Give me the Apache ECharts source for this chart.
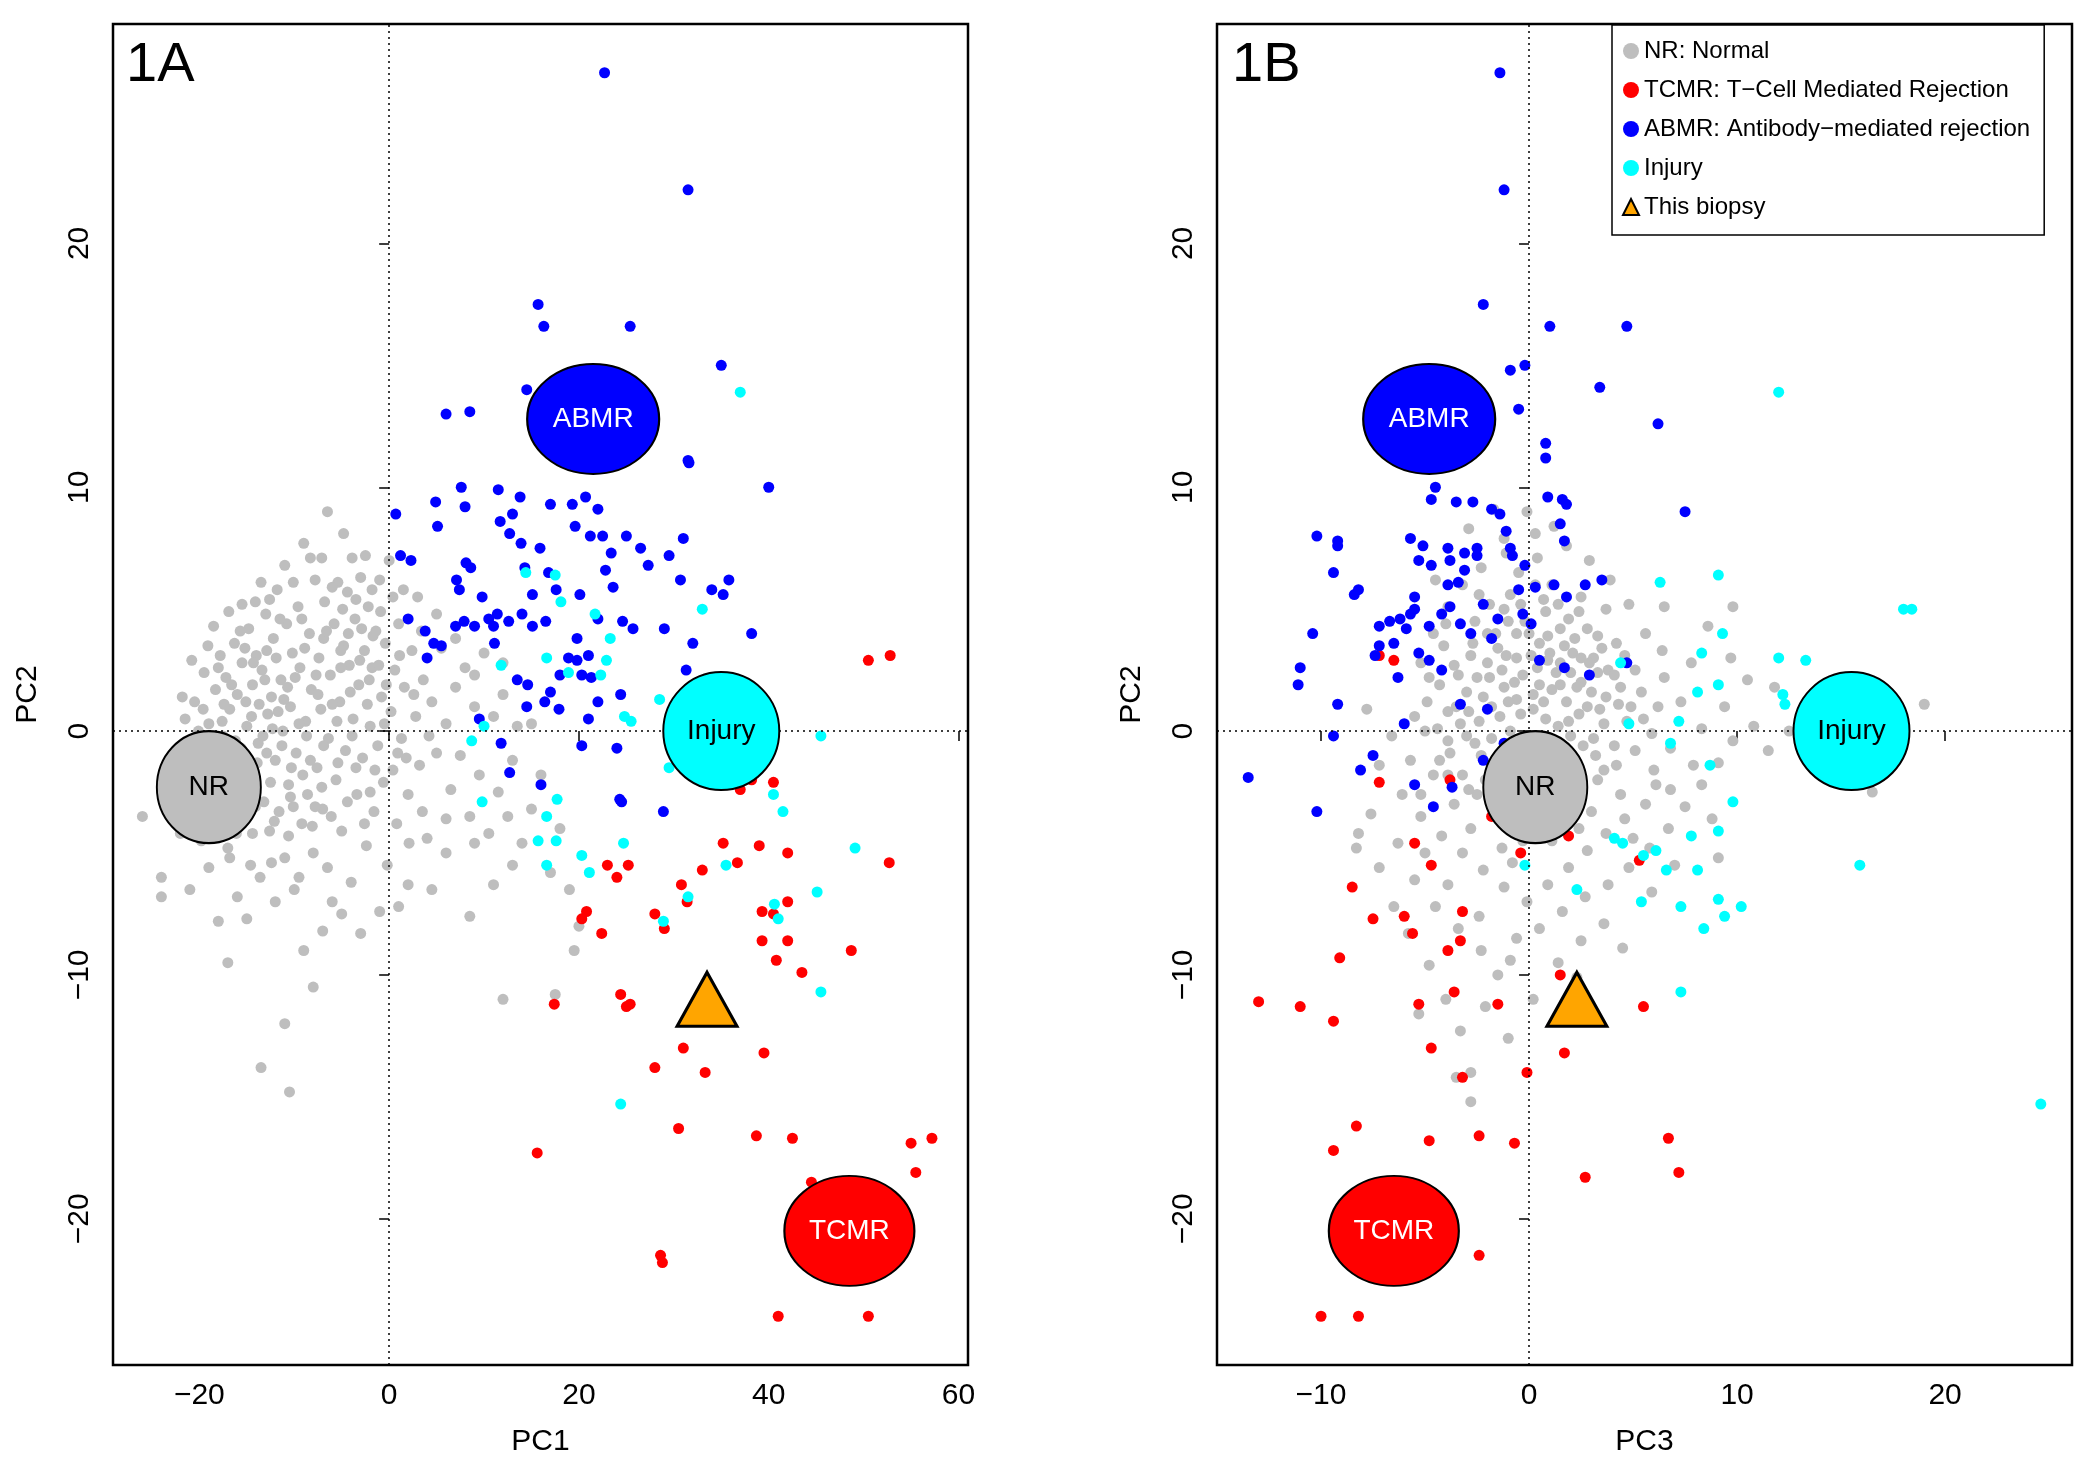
<!DOCTYPE html>
<html>
<head>
<meta charset="utf-8">
<script src="https://cdn.jsdelivr.net/npm/echarts@6/dist/echarts.min.js"></script>
<style>html,body{margin:0;padding:0;background:#fff}#chart{width:2096px;height:1476px}</style>
</head>
<body>
<div id="chart"></div>
<script>
// PC1 vs PC2 (panel 1A)
const grayA = [[-26,-3.5],[-24,-6],[-24,-6.8],[-23,-3],[-22.5,-1.5],[-22,-4.2],[-21.5,0.5],[-21,-2.7],[-20.5,1.2],[-20,-0.8],[-19.8,-4.5],[-19.5,2.4],[-19,0.3],[-18.7,-1.4],[-18.3,1.7],[-18,-3.1],[-17.8,3.1],[-17.5,-0.2],[-17.2,2.2],[-17,-4.8],[-16.8,0.9],[-16.5,-2.1],[-16.3,3.6],[-16,1.5],[-15.8,-1],[-15.5,2.8],[-15.3,-3.6],[-15,0.2],[-14.8,4.2],[-14.6,-5.5],[-14.4,1.9],[-14.2,-1.8],[-14,3.1],[-13.8,-0.5],[-13.6,-6],[-13.4,2.5],[-13.2,-2.9],[-13,4.8],[-12.8,0.7],[-12.6,-4.1],[-12.4,1.4],[-12.2,3.8],[-12,-1.2],[-11.8,5.8],[-11.6,-3.3],[-11.4,2.1],[-11.2,0],[-11,-5.2],[-10.8,4.4],[-10.6,-2.2],[-10.4,1],[-10.2,3.2],[-10,-6.5],[-9.8,-0.9],[-9.6,5.1],[-9.4,2.6],[-9.2,-3.8],[-9,7.7],[-8.8,0.4],[-8.6,-2.6],[-8.4,4],[-8.2,1.7],[-8,-5],[-7.8,6.2],[-7.6,-1.5],[-7.4,3],[-7.2,0.9],[-7,-3.2],[-6.8,5.3],[-6.5,9],[-6.4,-0.3],[-6.2,2.3],[-6,-7],[-5.8,4.4],[-5.6,-2],[-5.4,6.1],[-5.2,1.2],[-5,-4.1],[-4.8,3.5],[-4.6,-0.8],[-4.4,5.7],[-4.2,2.7],[-4,-6.2],[-3.8,0.5],[-3.6,4.6],[-3.4,-2.6],[-3.2,1.9],[-3,6.3],[-2.8,-1.1],[-2.6,3.3],[-2.4,-4.7],[-2.2,5.1],[-2,0.2],[-1.8,2.6],[-1.6,-3.3],[-1.4,4.1],[-1.2,-0.6],[-1,6.2],[-0.8,1.4],[-0.6,-2.1],[-0.4,3.6],[-0.2,-5.5],[0,7],[0.2,0.8],[0.4,-1.6],[0.6,2.5],[0.8,-3.8],[1,4.4],[1.3,-0.3],[1.6,1.8],[2,-2.6],[2.4,3.3],[2.8,0.6],[3.2,-1.4],[3.6,2.1],[4,-4.4],[4.5,1.2],[5,-0.9],[5.5,3.4],[6,0.3],[6.5,-2.4],[7,1.8],[7.5,-1],[8,2.6],[8.5,-3.5],[9,1],[9.5,-1.8],[10,3.2],[10.5,-4.2],[11,0.6],[11.5,-2.5],[12,1.5],[12.5,-3.5],[13,-1.2],[13.5,0.2],[14,-4.6],[15,-3.2],[16,-1.8],[17,-5.8],[18,-4],[19,-6.5],[20,-8],[19.5,-9],[17.5,-10.8],[12,-11],[-17,-9.5],[-18,-7.8],[-16,-6.8],[-13.5,-13.8],[-11,-12],[-10.5,-14.8],[-9,-9],[-8,-10.5],[-7,-8.2],[-5,-7.5],[-3,-8.3],[-1,-7.4],[1,-7.2],[2,-6.3],[4.5,-6.5],[6,-5],[8.5,-7.6],[11,-6.3],[13,-5.5],[-21,-6.5],[-19,-5.6],[-15,-7.7],[-12,-7],[-9.5,-6],[-6.5,-5.6],[-20.8,2.9],[-18.5,4.3],[-15.5,5.2],[-13.5,6.1],[-11,6.8],[-8.3,7.1],[-4.8,8.1],[-2.5,7.2],[-6,5.9],[-3.5,5.4],[-16.8,-3.6],[-14.8,-2.4],[-12.9,-0.9],[-10.3,-1.5],[-8.7,-0.2],[-7.5,1.5],[-5.5,0.4],[-3.9,-0.2],[-2.3,1.1],[-0.5,0.3],[-11.7,0.8],[-9.9,2.2],[-13.7,1.1],[-15.6,-0.7],[-17.6,0.4],[-19.3,-1.9],[-6.9,3.8],[-5.1,2.6],[-4.3,4],[-1.7,3.9],[3,5.5],[5,4.8],[7,3.8],[9,2.3],[12,2.8],[15,0.3],[1.5,5.8],[3.5,-3.3],[6,-3.6],[9,-4.6],[-2,-2.5],[-7.8,-3.1],[-10.6,-4.3],[-12.4,-5.4],[-14.4,-4.2],[-16.8,-5.2],[-18.4,-3.8],
  [-22.2,-3.3],[-21.3,-1.2],[-20.3,-2.2],[-19.6,0.9],[-18.9,-0.6],[-18,2.6],[-17.3,-1.6],[-16.6,1.9],[-15.9,-2.6],[-15.2,3.4],[-14.5,0.6],[-13.9,-1.3],[-13.1,2.1],[-12.5,-2.1],[-11.9,3],[-11.3,-0.6],[-10.7,1.8],[-10.1,-3.1],[-9.5,0.3],[-8.9,3.4],[-8.3,-1.2],[-7.7,2.3],[-7.1,-2.3],[-6.6,4.1],[-6,1.1],[-5.4,-1.3],[-4.9,5],[-4.1,1.6],[-3.5,-1.5],[-2.9,4.2],[-2.1,2.1],[-1.5,-1.6],[-0.9,4.9],[-0.3,1.9],[0.4,5.5],[1.1,3.1],[1.8,-1.1],[2.6,1.5],[3.4,4.1],[4.2,-0.2],[-20.6,-3.7],[-17.9,-2.4],[-16.1,-4.2],[-14.1,-3.1],[-12.1,-3.7],[-10.4,-2.7],[-8.1,-3.9],[-6.1,-3.5],[-4.4,-2.9],[-2.6,-3.8],[-19.1,3.5],[-16.9,4.9],[-14.1,5.3],[-12.6,5.4],[-10.1,6.1],[-7.1,7.1],[-3.9,7.1],[-1.8,5.8],[-9.2,4.6],[-12.9,3.3],[-15.1,1.2],[-13.3,-0.2],[-11.1,1.3],[-9.1,-1.8],[-6.9,-0.6],[-5.1,3.3],[-3.1,2.9],[-1.1,2.7],[0.9,-0.9],[2.1,-4.6],[-23.6,-2.3],[-21.8,1.4],[-20.1,0],[-19.3,-3.3],[-17.4,1.1],[-16.2,-0.4],[-15.7,4.1],[-14.3,2.8],[-12.3,0.1],[-11.5,4.6]];
const redA = [[50.5,2.9],[52.8,3.1],[40.5,-2.1],[38.2,-2],[37,-2.4],[33,-5.7],[35.2,-4.6],[36.7,-5.4],[39,-4.7],[42,-5],[42,-7],[52.7,-5.4],[23,-5.5],[24,-6],[25.2,-5.5],[20.8,-7.4],[20.3,-7.7],[22.4,-8.3],[30.8,-6.3],[31.4,-7],[28,-7.5],[29,-8.1],[39.3,-7.4],[40.5,-7.5],[39.3,-8.6],[42,-8.6],[40.8,-9.4],[43.5,-9.9],[48.7,-9],[17.4,-11.2],[24.4,-10.8],[25,-11.3],[25.4,-11.2],[31,-13],[33.3,-14],[39.5,-13.2],[28,-13.8],[30.5,-16.3],[38.7,-16.6],[42.5,-16.7],[15.6,-17.3],[44.5,-18.5],[55,-16.9],[55.5,-18.1],[57.2,-16.7],[28.6,-21.5],[28.8,-21.8],[41,-24],[50.5,-24]];
const blueA = [[22.7,27],[31.5,22.2],[15.7,17.5],[16.3,16.6],[25.4,16.6],[35,15],[14.5,14],[6,13],[8.5,13.1],[31.5,11.1],[31.6,11],[40,10],[0.7,8.9],[7.6,10],[11.5,9.9],[13.8,9.6],[17,9.3],[19.3,9.3],[20.7,9.6],[22,9.1],[19.6,8.4],[21.2,8],[22.5,8],[23.4,7.3],[26.5,7.5],[29.5,7.2],[25,8],[15.9,7.5],[13.9,7.7],[13,8.9],[11.7,8.6],[12.7,8.1],[8,9.2],[5.1,8.4],[4.9,9.4],[1.2,7.2],[2.3,7],[8.1,6.9],[8.6,6.7],[7.1,6.2],[7.4,5.8],[14.3,6.7],[16.8,6.5],[15.1,5.6],[17.6,5.8],[22.8,6.6],[23.6,5.9],[27.3,6.8],[31,7.9],[34,5.8],[35.2,5.6],[35.8,6.2],[38.2,4],[30.7,6.2],[20.1,5.6],[22,4.6],[24.6,4.5],[19.8,3.8],[16.5,4.5],[15.1,4.3],[14,4.8],[11.4,4.8],[10.5,4.6],[9,4.3],[7.9,4.5],[7,4.3],[4.7,3.6],[3.8,4.1],[2,4.6],[4,3],[5.5,3.5],[9.8,5.5],[11,4.3],[12.6,4.5],[18.9,3],[19.8,2.9],[18,2.3],[20.3,2.3],[21.3,2.2],[22,1.2],[21,3.1],[25.7,4.2],[29,4.2],[32,3.6],[31.3,2.5],[24.4,1.5],[17,1.6],[14.5,1],[16.4,1.2],[11.8,-0.5],[12.7,-1.7],[20.3,-0.6],[24,-0.7],[24.3,-2.8],[24.5,-2.9],[16,-2.2],[28.9,-3.3],[14.6,1.9],[13.5,2.1],[11.1,3.6],[9.5,0.5],[17.9,0.9],[21,0.5]];
const cyanA = [[37,13.9],[14.4,6.5],[17.5,6.4],[18.1,5.3],[21.7,4.8],[23.3,3.8],[33,5],[22.9,2.9],[11.8,2.7],[16.6,3],[18.9,2.4],[22.3,2.3],[28.5,1.3],[24.8,0.6],[25.5,0.4],[8.7,-0.4],[10,0.2],[9.8,-2.9],[17.7,-2.8],[16.6,-3.5],[15.7,-4.5],[16.6,-5.5],[17.6,-4.5],[20.3,-5.1],[21.1,-5.8],[24.7,-4.6],[40.5,-2.6],[41.5,-3.3],[45.5,-0.2],[35.5,-5.5],[29.5,-1.5],[31.5,-6.8],[28.9,-7.8],[40.6,-7.1],[41,-7.7],[45.1,-6.6],[49.1,-4.8],[45.5,-10.7],[24.4,-15.3]];
const biopsyA = [[33.5,-11]];
const centroidsA = [['NR',-19,-2.3],['ABMR',21.5,12.8],['Injury',35,0],['TCMR',48.5,-20.5]];

// PC3 vs PC2 (panel 1B)
const grayB = [[-0.5,6.5],[-1,4.5],[0,4],[0.5,3.6],[1,3.2],[1.5,2.8],[2,2.4],[2.5,2],[3,1.6],[-1.5,3.4],[-2,2.8],[-2.5,2.2],[-3,1.6],[-3.5,1],[-1.2,1.8],[-0.6,1.3],[0.2,0.9],[0.8,0.5],[1.4,0.2],[2,-0.2],[2.6,-0.6],[3.2,-1],[-0.3,2.3],[0.4,2.6],[1.1,1.7],[1.8,1.2],[-1.8,1],[-2.4,0.4],[-3,-0.2],[-0.9,0],[-0.2,-0.4],[0.5,-1.1],[1.2,-1.6],[2.2,3.8],[3.1,3],[3.8,2.5],[4.4,1.8],[4.9,1],[5.5,0.5],[-2.6,4.5],[-1.9,5.2],[-0.9,5.6],[0.8,4.9],[1.9,4.6],[2.8,4.2],[-3.6,2.7],[-4.3,1.9],[-4.9,1.2],[-4.4,0.1],[-3.8,-0.9],[-3.2,-1.8],[-2.5,-2.6],[-1.7,-3.3],[-1,-3.9],[-0.3,-4.5],[0.6,-3.8],[1.5,-3.2],[2.4,-2.5],[3.3,-2],[4.2,-1.4],[5.1,-0.8],[6,-1.6],[6.8,-2.4],[5.6,-3],[4.6,-3.6],[3.7,-4.2],[2.8,-4.9],[1.9,-5.6],[0.9,-6.3],[-0.1,-7],[-1.2,-6.4],[-2.2,-5.7],[-3.2,-5],[-4.2,-4.3],[-5.2,-3.5],[-6.1,-2.6],[-5.7,-1.2],[-5.5,0.6],[-6.3,-4.6],[-5.5,-6.1],[-4.5,-7.2],[-3.4,-8.1],[-2.3,-9],[-1.5,-10],[-0.6,-8.5],[0.5,-8.1],[1.6,-7.4],[2.7,-6.8],[3.8,-6.3],[4.8,-5.6],[5.8,-4.8],[6.7,-4],[7.5,-3.1],[8.3,-2.2],[9.1,-1.3],[9.8,-0.4],[10.8,0.2],[11.5,-0.8],[12.5,0],[13.5,-1.2],[14.4,-0.5],[19,1.1],[16.5,-2.5],[7.3,1.2],[8.3,0.1],[6.5,2.2],[7.8,2.8],[8.6,4.3],[9.8,5.1],[9.7,3],[10.5,2.1],[5.6,4],[4.8,5.2],[3.9,6.2],[2.9,7],[1.8,7.6],[0.3,8.1],[-1.1,7.3],[-2.3,6.7],[-3.2,6],[-3.9,5.1],[-4.6,4],[-5.2,2.8],[-6.6,-0.2],[-7.2,-1.4],[-8.2,-4.2],[-7.2,-5.6],[-6.5,-7.2],[-5.8,-8.3],[-4.8,-9.6],[-4,-11],[-5.3,-11.6],[-3.3,-12.3],[-2.1,-11.3],[-1,-12.6],[0.2,-11],[1.4,-9.5],[2.5,-8.6],[3.6,-7.9],[-3.5,-14.2],[-2.8,-15.2],[-2.8,-14],[-0.2,-1.6],[0.9,-2.4],[1.8,-1.9],[-1.6,-1.2],[-2.3,-1],[-1,1.2],[0.2,1.5],[1.5,1.9],[2.8,1],[3.6,0.3],[4.1,-0.6],[-0.6,3],[-1.3,2.5],[0.9,3.9],[2.1,3.2],[3.3,2.4],[-2.8,3.1],[-3.9,0.8],[-4.1,3.5],[-2.1,-2],[-0.9,-2.6],[3.7,5],[2.5,5.5],[1.1,6],[-0.4,5.2],[-1.6,4],[5.1,2.5],[6.2,1],[4.4,-2.6],[3,-3.3],[1.1,-4.5],[-0.8,-5.4],[-2.8,-4],[-3.6,-3],[-4.6,-1.8],[6.8,-0.7],[7.9,-1.4],[8.8,-3.6],[7,-5.5],[5.9,-6.6],[4.5,-8.9],[2.3,-10.1],[-0.9,-9.4],[-2.4,-7.6],[-3.9,-6.3],[-5,-5],[11.8,1.8],[13.8,0.7],[15.2,-1.9],[9.4,1],[6.5,5.1],[9.1,-5.2],[2.4,-4],[-1.3,-4.8],[0.1,-2.9],[-7.6,-3.4],[-7.8,0.9],[-8.3,-4.8],[-1.7,9.1],[0.4,7.1],[1.4,5.2],[-2.9,8.3],[4.2,3.6],[-4.5,6.2],[-5.2,-2.6],[6.1,-2.2],[5,-4.4],
  [-2.2,1.4],[-1.4,0.6],[-0.7,2],[0.1,3.1],[0.7,1.2],[1.3,2.4],[1.9,0.4],[2.5,3],[3.1,-0.3],[3.7,1.4],[-2.9,0.8],[-3.4,2.3],[-2.7,3.6],[-1.9,2.2],[-1.1,3.1],[-0.4,0.7],[0.5,1.9],[1.1,-0.4],[1.7,3.5],[2.3,1.8],[2.9,2.8],[3.5,3.4],[4.1,2.3],[4.7,0.4],[-3.9,-0.4],[-3.3,0.3],[-2.6,-0.5],[-1.8,-0.3],[-1,-0.8],[-0.1,-0.9],[0.7,-0.2],[1.6,-0.7],[2.4,0.7],[3.4,0.9],[4.3,1.1],[-4.8,2.2],[-4.3,-1.2],[-2,4],[-1.2,5],[-0.2,4.5],[0.7,5.4],[1.5,4.2],[2.4,4.9],[3.3,3.9],[-0.8,-2],[0.4,-2.2],[1.4,-2.7],[2.4,-1.5],[3.6,-1.6],[-1.4,-3],[-2.9,-2.4],[-3.9,-1.8],[0.3,6],[-0.6,4],[0.9,2.9],[-2.4,5.6],[4.6,3.1],[5.4,1.6],[5.9,-0.1],[6.4,3.3],[-4,4.4],[-5,0],[-1.2,7.9],[-0.1,9],[1.2,8.4]];
const redB = [[-7.2,3.1],[-6.5,2.9],[-7.2,-2.1],[-3.8,-2],[-5.5,-4.6],[-4.7,-5.5],[-8.5,-6.4],[-7.5,-7.7],[-6,-7.6],[-5.6,-8.3],[-3.2,-7.4],[-3.3,-8.6],[-3.9,-9],[-9.1,-9.3],[-13,-11.1],[-11,-11.3],[-9.4,-11.9],[-5.3,-11.2],[-3.6,-10.7],[-1.5,-11.2],[1.5,-10],[5.5,-11.3],[-4.7,-13],[-3.2,-14.2],[-0.1,-14],[1.7,-13.2],[-8.3,-16.2],[-9.4,-17.2],[-4.8,-16.8],[-2.4,-16.6],[-0.7,-16.9],[6.7,-16.7],[7.2,-18.1],[2.7,-18.3],[-2.4,-21.5],[-10,-24],[-8.2,-24],[0.4,-2.3],[-0.4,-5],[1.9,-4.3],[5.3,-5.3],[-1.8,-3.5]];
const blueB = [[-1.4,27],[-1.2,22.2],[-2.2,17.5],[1,16.6],[4.7,16.6],[-0.2,15],[-0.9,14.8],[-0.5,13.2],[3.4,14.1],[6.2,12.6],[0.8,11.8],[0.8,11.2],[-4.5,10],[-4.7,9.5],[-3.5,9.4],[-2.7,9.4],[-1.8,9.1],[-1.4,8.9],[-1.1,8.2],[-0.9,7.5],[0.9,9.6],[1.6,9.5],[1.8,9.3],[1.5,8.5],[1.7,7.8],[7.5,9],[-10.2,8],[-9.2,7.6],[-9.2,7.8],[-5.7,7.9],[-5.1,7.6],[-3.9,7.5],[-3.1,7.3],[-2.5,7.5],[-0.8,7.2],[-0.2,6.8],[-5.3,7],[-4.7,6.8],[-3.8,7],[-3.1,6.6],[-9.4,6.5],[-8.2,5.8],[-8.4,5.6],[-3.9,6],[-3.4,6.1],[-0.5,5.8],[0.3,5.9],[1.2,6],[2.7,6],[3.5,6.2],[1.8,5.5],[-5.5,5.5],[-5.5,5],[-4.2,4.8],[-3.8,5.1],[-2.2,5.2],[-1.5,4.6],[-0.3,4.8],[0.1,4.4],[-7.2,4.3],[-6.7,4.5],[-6.2,4.6],[-5.9,4.2],[-5.7,4.8],[-4.8,4.3],[-3.3,4.4],[-2.8,4],[-1.8,3.8],[-10.4,4],[-7.2,3.5],[-7.4,3.1],[-6.5,3.6],[-5.3,3.2],[-4.8,2.9],[-6.3,2.2],[-4.2,2.5],[-11,2.6],[-11.1,1.9],[-9.2,1.1],[-6,0.3],[-3.3,1.1],[-7.5,-1],[-9.4,-0.2],[-13.5,-1.9],[-10.2,-3.3],[-5.5,-2.2],[-2.2,-1.2],[-3.7,-2.3],[-4.6,-3.1],[-8.1,-1.6],[0.5,2.9],[1.7,2.6],[2.9,2.3],[4.7,2.8],[-2.5,7.2],[0.3,-0.7],[-1.2,-0.5],[-0.8,-1.4],[-2,0.9]];
const cyanB = [[12,13.9],[18,5],[18.4,5],[6.3,6.1],[9.1,6.4],[9.3,4],[8.3,3.2],[12,3],[13.3,2.9],[12.2,1.5],[12.3,1.1],[9.1,1.9],[8.1,1.6],[4.4,2.8],[4.8,0.3],[7.2,0.4],[6.8,-0.5],[8.7,-1.4],[9.8,-2.9],[9.1,-4.1],[7.8,-4.3],[4.1,-4.4],[4.5,-4.6],[5.5,-5.1],[6.1,-4.9],[6.6,-5.7],[8.1,-5.7],[9.1,-6.9],[10.2,-7.2],[9.4,-7.6],[8.4,-8.1],[5.4,-7],[7.3,-7.2],[15.9,-5.5],[7.3,-10.7],[24.6,-15.3],[2.3,-6.5],[-0.2,-5.5]];
const biopsyB = [[2.3,-11]];
const centroidsB = [['NR',0.3,-2.3],['ABMR',-4.8,12.8],['Injury',15.5,0],['TCMR',-6.5,-20.5]];

const xTicksA = [-20, 0, 20, 40, 60];
const xTicksB = [-10, 0, 10, 20];
const yTicks = [-20, -10, 0, 10, 20];

const groupNames = ['NR: Normal', 'TCMR: T\u2212Cell Mediated Rejection', 'ABMR: Antibody\u2212mediated rejection', 'Injury', 'This biopsy'];
const groupColors = ['#bebebe', '#ff0000', '#0000ff', '#00ffff', '#ffa500'];
const centroidStyle = {
  NR: { color: '#bebebe', text: '#000', size: [104, 112] },
  ABMR: { color: '#0000ff', text: '#fff', size: [132, 110] },
  Injury: { color: '#00ffff', text: '#000', size: [116, 118] },
  TCMR: { color: '#ff0000', text: '#fff', size: [130, 110] }
};

const font = 'Liberation Sans, Arial, sans-serif';
const chart = echarts.init(document.getElementById('chart'));

function xAxis(idx, min, max, ticks, name) {
  return {
    gridIndex: idx, type: 'value', min: min, max: max,
    name: name, nameLocation: 'middle', nameGap: 62,
    nameTextStyle: { fontSize: 30, fontFamily: font, color: '#000' },
    axisLine: { show: false },
    axisTick: { show: true, inside: false, length: 10, customValues: ticks, lineStyle: { color: '#000', width: 1.5 } },
    axisLabel: { customValues: ticks, fontSize: 30, fontFamily: font, color: '#000', margin: 16, formatter: v => String(v).replace('-', '\u2212') },
    splitLine: { show: false }
  };
}
function yAxis(idx) {
  return {
    gridIndex: idx, type: 'value', min: -26, max: 29,
    name: 'PC2', nameLocation: 'middle', nameGap: 70, nameRotate: 90,
    nameTextStyle: { fontSize: 30, fontFamily: font, color: '#000' },
    axisLine: { show: false },
    axisTick: { show: true, inside: false, length: 10, customValues: yTicks, lineStyle: { color: '#000', width: 1.5 } },
    axisLabel: { customValues: yTicks, rotate: 90, fontSize: 30, fontFamily: font, color: '#000', margin: 18, formatter: v => String(v).replace('-', '\u2212') },
    splitLine: { show: false }
  };
}

function panelSeries(idx, groups, biopsy, centroids) {
  const out = groups.map((g, i) => ({
    name: groupNames[i], type: 'scatter', xAxisIndex: idx, yAxisIndex: idx,
    data: g, symbolSize: 11, itemStyle: { color: groupColors[i], opacity: 1 },
    emphasis: { disabled: true }
  }));
  out[0].markLine = {
    silent: true, symbol: 'none', label: { show: false },
    lineStyle: { color: '#000', type: [2, 4], width: 1.5 },
    data: [{ xAxis: 0 }, { yAxis: 0 }]
  };
  out.push({
    name: groupNames[4], type: 'scatter', xAxisIndex: idx, yAxisIndex: idx,
    data: biopsy, symbol: 'triangle', symbolSize: [60, 54], z: 4,
    itemStyle: { color: groupColors[4], borderColor: '#000', borderWidth: 3, opacity: 1 }
  });
  out.push({
    type: 'scatter', xAxisIndex: idx, yAxisIndex: idx, z: 5, silent: true,
    data: centroids.map(c => ({
      value: [c[1], c[2]], symbolSize: centroidStyle[c[0]].size,
      itemStyle: { color: centroidStyle[c[0]].color, borderColor: '#000', borderWidth: 2, opacity: 1 },
      label: { show: true, position: 'inside', formatter: c[0], fontSize: 28, fontFamily: font, color: centroidStyle[c[0]].text }
    }))
  });
  return out;
}

const option = {
  backgroundColor: '#fff',
  animation: false,
  grid: [
    { left: 113, top: 24, width: 855, height: 1341, show: true, borderColor: '#000', borderWidth: 2.5, backgroundColor: 'transparent' },
    { left: 1217, top: 24, width: 855, height: 1341, show: true, borderColor: '#000', borderWidth: 2.5, backgroundColor: 'transparent' }
  ],
  xAxis: [xAxis(0, -29.1, 61, xTicksA, 'PC1'), xAxis(1, -15, 26.1, xTicksB, 'PC3')],
  yAxis: [yAxis(0), yAxis(1)],
  legend: {
    data: groupNames.map((n, i) => ({ name: n, icon: i === 4 ? 'triangle' : 'circle' })),
    orient: 'vertical', left: 1612, top: 25, width: 460,
    itemWidth: 16, itemHeight: 16, itemGap: 15,
    padding: [14, 14, 16, 10],
    borderColor: '#000', borderWidth: 1.5, backgroundColor: '#fff',
    textStyle: { fontSize: 24, fontFamily: font, color: '#000' },
    selectedMode: false
  },
  graphic: [
    { type: 'text', left: 126, top: 38, style: { text: '1A', fontSize: 56, fontFamily: font, fill: '#000' } },
    { type: 'text', left: 1232, top: 38, style: { text: '1B', fontSize: 56, fontFamily: font, fill: '#000' } }
  ],
  series: [
    ...panelSeries(0, [grayA, redA, blueA, cyanA], biopsyA, centroidsA),
    ...panelSeries(1, [grayB, redB, blueB, cyanB], biopsyB, centroidsB)
  ]
};
chart.setOption(option);
</script>
</body>
</html>
